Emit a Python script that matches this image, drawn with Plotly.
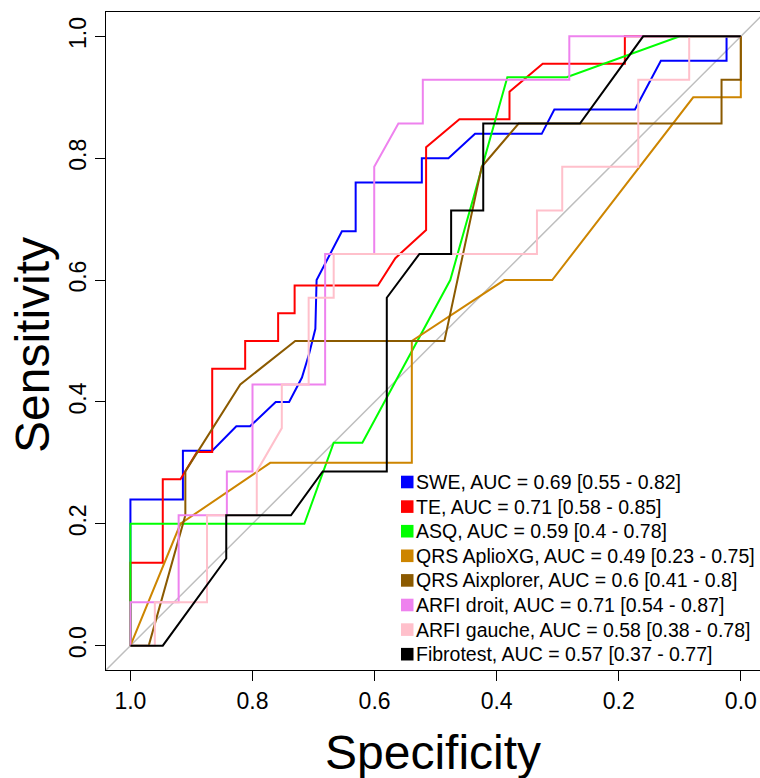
import plotly.graph_objects as go

# ---------------- data ----------------
names = ["SWE", "TE", "ASQ", "QRS AplioXG", "QRS Aixplorer",
         "ARFI droit", "ARFI gauche", "Fibrotest"]
auc_labels = ["AUC = 0.69 [0.55 - 0.82]", "AUC = 0.71 [0.58 - 0.85]",
              "AUC = 0.59 [0.4 - 0.78]", "AUC = 0.49 [0.23 - 0.75]",
              "AUC = 0.6 [0.41 - 0.8]", "AUC = 0.71 [0.54 - 0.87]",
              "AUC = 0.58 [0.38 - 0.78]", "AUC = 0.57 [0.37 - 0.77]"]
colors = ["#0000FF", "#FF0000", "#00FF00", "#CD8500", "#8B5A00",
          "#EE82EE", "#FFC0CB", "#000000"]

swe_spec = [1.0, 1.0, 0.914, 0.914, 0.866, 0.8265, 0.804, 0.762, 0.740, 0.719,
            0.707, 0.697, 0.695, 0.6535, 0.631, 0.631, 0.5226, 0.5226, 0.479,
            0.4354, 0.3262, 0.3055, 0.1735, 0.131, 0.0234, 0.0234, 0.0]
swe_sens = [0.0, 0.24, 0.24, 0.32, 0.32, 0.36, 0.36, 0.40, 0.40, 0.44,
            0.48, 0.52, 0.60, 0.68, 0.68, 0.76, 0.76, 0.80, 0.80,
            0.84, 0.84, 0.88, 0.88, 0.96, 0.96, 1.0, 1.0]

te_spec = [1.0, 1.0, 0.947, 0.947, 0.918, 0.891, 0.866, 0.866, 0.812, 0.812,
           0.758, 0.758, 0.731, 0.731, 0.5946, 0.566, 0.5156, 0.5156, 0.461,
           0.379, 0.379, 0.3246, 0.19, 0.19, 0.0]
te_sens = [0.0, 0.136, 0.136, 0.273, 0.273, 0.318, 0.318, 0.4545, 0.4545, 0.5,
           0.5, 0.5455, 0.5455, 0.591, 0.591, 0.636, 0.682, 0.818, 0.864,
           0.864, 0.909, 0.955, 0.955, 1.0, 1.0]

asq_spec = [1.0, 1.0, 0.715, 0.667, 0.62, 0.476, 0.3825, 0.2853, 0.10, 0.0]
asq_sens = [0.0, 0.2, 0.2, 0.333, 0.333, 0.6, 0.933, 0.933, 1.0, 1.0]

aplio_spec = [1.0, 0.918, 0.771, 0.539, 0.539, 0.3874, 0.309, 0.078, 0.0, 0.0]
aplio_sens = [0.0, 0.2, 0.3, 0.3, 0.5, 0.6, 0.6, 0.9, 0.9, 1.0]

aix_spec = [1.0, 0.97, 0.91, 0.91, 0.82, 0.73, 0.4856, 0.4245, 0.364,
            0.0316, 0.0316, 0.0, 0.0]
aix_sens = [0.0, 0.0, 0.214, 0.286, 0.4286, 0.5, 0.5, 0.786, 0.857,
            0.857, 0.929, 0.929, 1.0]

arfid_spec = [1.0, 1.0, 0.921, 0.921, 0.842, 0.842, 0.80, 0.80, 0.681, 0.681,
              0.6006, 0.6006, 0.561, 0.521, 0.521, 0.281, 0.281, 0.0]
arfid_sens = [0.0, 0.0714, 0.0714, 0.214, 0.214, 0.286, 0.286, 0.4286, 0.4286,
              0.643, 0.643, 0.786, 0.857, 0.857, 0.929, 0.929, 1.0, 1.0]

arfig_spec = [1.0, 0.96, 0.96, 0.8745, 0.8745, 0.793, 0.793, 0.752, 0.752,
              0.708, 0.708, 0.667, 0.667, 0.334, 0.334, 0.2926, 0.2926,
              0.168, 0.168, 0.0846, 0.0846, 0.0]
arfig_sens = [0.0, 0.0, 0.0714, 0.0714, 0.214, 0.214, 0.286, 0.357, 0.4286,
              0.4286, 0.571, 0.571, 0.643, 0.643, 0.714, 0.714, 0.786,
              0.786, 0.929, 0.929, 1.0, 1.0]

fibro_spec = [1.0, 0.947, 0.843, 0.843, 0.737, 0.685, 0.58, 0.58, 0.5265,
              0.4746, 0.4746, 0.422, 0.422, 0.2635, 0.16, 0.0]
fibro_sens = [0.0, 0.0, 0.143, 0.214, 0.214, 0.286, 0.286, 0.571, 0.643,
              0.643, 0.714, 0.714, 0.857, 0.857, 1.0, 1.0]

x_ticks = [1.0, 0.8, 0.6, 0.4, 0.2, 0.0]
x_ticktext = ["1.0", "0.8", "0.6", "0.4", "0.2", "0.0"]
y_ticks = [0.0, 0.2, 0.4, 0.6, 0.8, 1.0]
y_ticktext = ["0.0", "0.2", "0.4", "0.6", "0.8", "1.0"]

curves = [(swe_spec, swe_sens), (te_spec, te_sens), (asq_spec, asq_sens),
          (aplio_spec, aplio_sens), (aix_spec, aix_sens),
          (arfid_spec, arfid_sens), (arfig_spec, arfig_sens),
          (fibro_spec, fibro_sens)]

# ---------------- figure ----------------
FONT = "Liberation Sans, Arial, sans-serif"
W, H = 760, 778
L, R, T, B = 106, 0, 12, 108
pw, ph = W - L - R, H - T - B


def px_x(p):
    return (p - L) / pw


def px_y(p):
    return (H - B - p) / ph


fig = go.Figure()

# identity line
fig.add_trace(go.Scatter(x=[1.1, -0.1], y=[-0.1, 1.1], mode="lines",
                         line=dict(color="#BEBEBE", width=1.5),
                         showlegend=False, hoverinfo="skip"))

for (sx, sy), name, col in zip(curves, names, colors):
    fig.add_trace(go.Scatter(x=sx, y=sy, mode="lines", name=name,
                             line=dict(color=col, width=2),
                             showlegend=False))

annotations = []
shapes = []
row0, step = 482, 24.6
for i, (name, lab, col) in enumerate(zip(names, auc_labels, colors)):
    yc = row0 + i * step
    shapes.append(dict(type="rect", xref="paper", yref="paper",
                       x0=px_x(401), x1=px_x(413.5),
                       y0=px_y(yc + 6.3), y1=px_y(yc - 6.3),
                       fillcolor=col, line=dict(width=0)))
    annotations.append(dict(xref="paper", yref="paper", x=px_x(414),
                            y=px_y(yc), xanchor="left", yanchor="middle",
                            text=f"{name}, {lab}", showarrow=False,
                            font=dict(family=FONT, size=19.5, color="black")))

annotations.append(dict(xref="paper", yref="paper", x=px_x(433), y=px_y(752),
                        xanchor="center", yanchor="middle", text="Specificity",
                        showarrow=False,
                        font=dict(family=FONT, size=48, color="black")))
annotations.append(dict(xref="paper", yref="paper", x=px_x(33), y=px_y(345),
                        xanchor="center", yanchor="middle", text="Sensitivity",
                        textangle=-90, showarrow=False,
                        font=dict(family=FONT, size=48, color="black")))

fig.update_layout(
    width=W, height=H, autosize=False,
    margin=dict(l=L, r=R, t=T, b=B, pad=0),
    paper_bgcolor="white", plot_bgcolor="white",
    showlegend=False,
    annotations=annotations, shapes=shapes,
    xaxis=dict(range=[1.04, -0.0314], tickvals=x_ticks, ticktext=x_ticktext,
               ticks="outside", ticklen=10, tickwidth=1, tickcolor="black",
               showline=True, linecolor="black", linewidth=1.2, mirror=True,
               showgrid=False, zeroline=False,
               tickfont=dict(family=FONT, size=23, color="black")),
    yaxis=dict(range=[-0.04, 1.04], tickvals=y_ticks, ticktext=y_ticktext,
               tickangle=-90,
               ticks="outside", ticklen=10, tickwidth=1, tickcolor="black",
               showline=True, linecolor="black", linewidth=1.2, mirror=False,
               showgrid=False, zeroline=False,
               tickfont=dict(family=FONT, size=23, color="black")),
)

fig.write_html(
    "out.html",
    config={"displayModeBar": False},
    post_script="document.body.style.margin='0';"
                "document.body.style.padding='0';"
                "document.body.style.overflow='hidden';",
)
